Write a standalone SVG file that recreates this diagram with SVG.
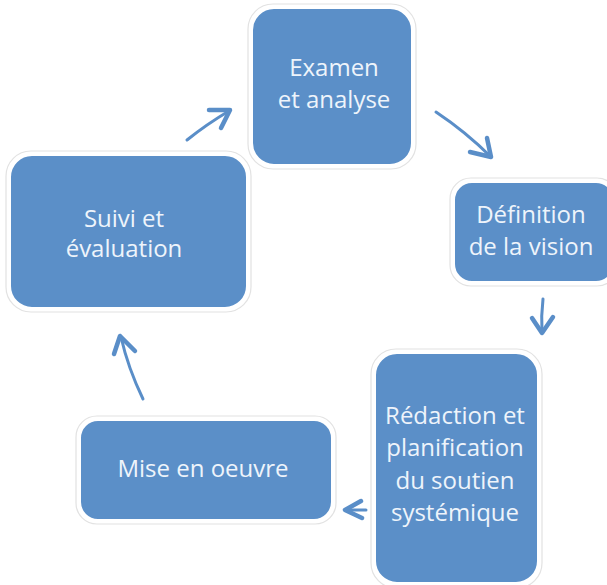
<svg xmlns="http://www.w3.org/2000/svg" width="607" height="585" viewBox="0 0 607 585">
  <style>
    .halo { fill: #ffffff; stroke: #e2e2e2; stroke-width: 1.2; }
    .box { fill: #5b8fc8; stroke: #ffffff; stroke-width: 2; }
    .lbl { font-family: "Open Sans", "Noto Sans", sans-serif; font-size: 24px; fill: #eef4fb; text-anchor: middle; }
    .arr { fill: none; stroke: #5a8ec8; stroke-width: 3; stroke-linecap: round; stroke-linejoin: round; }
    .head { fill: none; stroke: #5a8ec8; stroke-width: 4.5; stroke-linecap: round; stroke-linejoin: round; }
  </style>
  <rect width="607" height="585" fill="#ffffff"/>

  <g id="node-examen">
    <rect class="halo" x="248" y="4" width="168" height="165" rx="25"/>
    <rect class="box" x="252" y="8" width="160" height="157" rx="22"/>
    <text class="lbl" x="334" y="76">Examen</text>
    <text class="lbl" x="334" y="108">et analyse</text>
  </g>

  <g id="node-definition">
    <rect class="halo" x="450" y="178" width="168" height="108" rx="21"/>
    <rect class="box" x="454" y="182" width="160" height="100" rx="18"/>
    <text class="lbl" x="531" y="223">Définition</text>
    <text class="lbl" x="531" y="255">de la vision</text>
  </g>

  <g id="node-redaction">
    <rect class="halo" x="371" y="349" width="171" height="239" rx="25"/>
    <rect class="box" x="375" y="353" width="163" height="230" rx="22"/>
    <text class="lbl" x="455" y="424">Rédaction et</text>
    <text class="lbl" x="455" y="456">planification</text>
    <text class="lbl" x="455" y="489">du soutien</text>
    <text class="lbl" x="455" y="521">systémique</text>
  </g>

  <g id="node-mise">
    <rect class="halo" x="76" y="416" width="260" height="108" rx="21"/>
    <rect class="box" x="80" y="420" width="252" height="100" rx="18"/>
    <text class="lbl" x="203" y="477">Mise en oeuvre</text>
  </g>

  <g id="node-suivi">
    <rect class="halo" x="6" y="151" width="245" height="161" rx="25"/>
    <rect class="box" x="10" y="155" width="237" height="153" rx="22"/>
    <text class="lbl" x="124" y="227">Suivi et</text>
    <text class="lbl" x="124" y="257">évaluation</text>
  </g>

  <g id="connectors">
    <!-- Suivi -> Examen -->
    <path class="arr" d="M187,140 Q207,124 229,111"/>
    <path class="head" d="M209,110 L230,110 L221,128"/>
    <!-- Examen -> Definition -->
    <path class="arr" d="M436,112 Q466,132 491,157"/>
    <path class="head" d="M470,152 L491,157 L487,138"/>
    <!-- Definition -> Redaction -->
    <path class="arr" d="M543,299 Q541,316 542,332"/>
    <path class="head" d="M532,318 L542,333 L553,317"/>
    <!-- Redaction -> Mise -->
    <path class="arr" d="M366,510 L345,510"/>
    <path class="head" d="M361,501 L345,510 L362,518"/>
    <!-- Mise -> Suivi -->
    <path class="arr" d="M143,399 Q128,368 121,337"/>
    <path class="head" d="M114,354 L120,336 L135,351"/>
  </g>
</svg>
